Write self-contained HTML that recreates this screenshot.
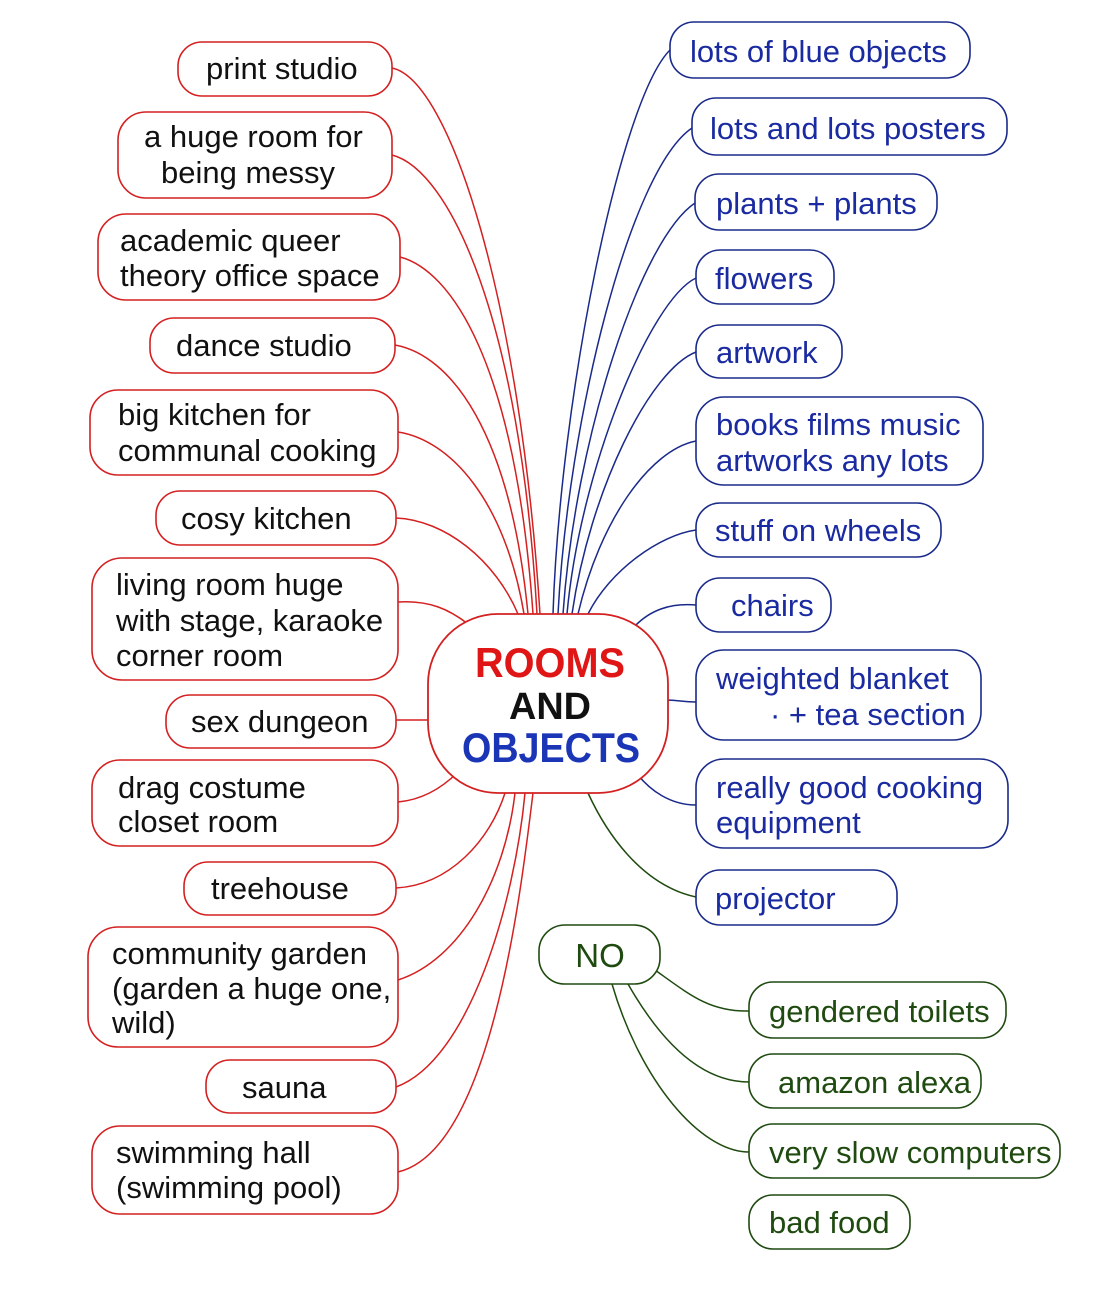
<!DOCTYPE html>
<html><head><meta charset="utf-8"><style>
html,body{margin:0;padding:0;background:#fff}
svg{display:block}
text{font-family:"Liberation Sans",sans-serif;font-size:31px}
.r rect{fill:#fff;stroke:#d42020;stroke-width:1.6}
.b rect{fill:#fff;stroke:#1a2a8a;stroke-width:1.6}
.g rect{fill:#fff;stroke:#1f4a10;stroke-width:1.6}
.r text{fill:#111}
.b text{fill:#1a2aa0}
.g text{fill:#1f4a10}
path{fill:none;stroke-width:1.5}
.lr{stroke:#d42020}.lb{stroke:#1a2a8a}.lg{stroke:#1f4a10}
</style></head><body>
<svg width="1105" height="1304" viewBox="0 0 1105 1304">
<g class="lr">
<path d="M392,68 C450,80 520,300 540,614"/>
<path d="M392,155 C450,170 520,320 537,614"/>
<path d="M400,257 C450,270 515,360 533,614"/>
<path d="M395,345 C450,355 510,430 528,614"/>
<path d="M398,432 C450,440 505,500 524,614"/>
<path d="M396,518 C445,520 495,560 518,614"/>
<path d="M398,602 C430,600 450,610 468,624"/>
<path d="M396,720 L428,720"/>
<path d="M398,802 C420,800 440,790 458,772"/>
<path d="M396,888 C450,885 490,840 505,793"/>
<path d="M398,980 C460,960 505,880 515,793"/>
<path d="M396,1087 C470,1060 515,900 525,793"/>
<path d="M398,1172 C490,1150 520,900 533,793"/>
</g>
<g class="lb">
<path d="M670,50 C620,100 560,400 553,614"/>
<path d="M692,128 C630,170 568,420 558,614"/>
<path d="M695,203 C640,240 575,440 563,614"/>
<path d="M696,278 C650,300 580,470 567,614"/>
<path d="M696,352 C650,370 590,490 572,614"/>
<path d="M696,441 C650,450 600,520 578,614"/>
<path d="M696,530 C660,535 610,570 588,614"/>
<path d="M696,605 C670,603 650,610 634,627"/>
<path d="M696,702 C685,702 675,700 667,700"/>
<path d="M696,805 C670,805 650,790 638,775"/>
</g>
<g class="lg">
<path d="M696,897 C640,885 605,830 588,793"/>
<path d="M655,970 C690,995 710,1012 749,1011"/>
<path d="M628,984 C660,1040 700,1082 749,1082"/>
<path d="M612,984 C640,1080 700,1152 749,1152"/>
</g>
<rect x="428" y="614" width="240" height="179" rx="70" fill="#fff" stroke="#d42020" stroke-width="1.8"/>
<text x="550" y="677" text-anchor="middle" font-weight="bold" style="font-size:42px" fill="#e01515" textLength="150" lengthAdjust="spacingAndGlyphs">ROOMS</text>
<text x="550" y="719" text-anchor="middle" font-weight="bold" style="font-size:38px" fill="#111" textLength="82" lengthAdjust="spacingAndGlyphs">AND</text>
<text x="551" y="762" text-anchor="middle" font-weight="bold" style="font-size:42px" fill="#1a35b5" textLength="178" lengthAdjust="spacingAndGlyphs">OBJECTS</text>
<g class="r">
<rect x="178" y="42" width="214" height="54" rx="24"/><text x="206" y="79">print studio</text>
<rect x="118" y="112" width="274" height="86" rx="28"/><text x="144" y="147">a huge room for</text><text x="161" y="183">being messy</text>
<rect x="98" y="214" width="302" height="86" rx="28"/><text x="120" y="251">academic queer</text><text x="120" y="286">theory office space</text>
<rect x="150" y="318" width="245" height="55" rx="24"/><text x="176" y="356">dance studio</text>
<rect x="90" y="390" width="308" height="85" rx="28"/><text x="118" y="425">big kitchen for</text><text x="118" y="461">communal cooking</text>
<rect x="156" y="491" width="240" height="54" rx="24"/><text x="181" y="529">cosy kitchen</text>
<rect x="92" y="558" width="306" height="122" rx="30"/><text x="116" y="595">living room huge</text><text x="116" y="631">with stage, karaoke</text><text x="116" y="666">corner room</text>
<rect x="166" y="695" width="230" height="53" rx="24"/><text x="191" y="732">sex dungeon</text>
<rect x="92" y="760" width="306" height="86" rx="28"/><text x="118" y="798">drag costume</text><text x="118" y="832">closet room</text>
<rect x="184" y="862" width="212" height="53" rx="24"/><text x="211" y="899">treehouse</text>
<rect x="88" y="927" width="310" height="120" rx="30"/><text x="112" y="964">community garden</text><text x="112" y="999">(garden a huge one,</text><text x="112" y="1033">wild)</text>
<rect x="206" y="1060" width="190" height="53" rx="24"/><text x="242" y="1098">sauna</text>
<rect x="92" y="1126" width="306" height="88" rx="28"/><text x="116" y="1163">swimming hall</text><text x="116" y="1198">(swimming pool)</text>
</g>
<g class="b">
<rect x="670" y="22" width="300" height="56" rx="24"/><text x="690" y="62">lots of blue objects</text>
<rect x="692" y="98" width="315" height="57" rx="24"/><text x="710" y="139">lots and lots posters</text>
<rect x="695" y="174" width="242" height="56" rx="24"/><text x="716" y="214">plants + plants</text>
<rect x="696" y="250" width="138" height="54" rx="24"/><text x="715" y="289">flowers</text>
<rect x="696" y="325" width="146" height="53" rx="24"/><text x="716" y="363">artwork</text>
<rect x="696" y="397" width="287" height="88" rx="28"/><text x="716" y="435">books films music</text><text x="716" y="471">artworks any lots</text>
<rect x="696" y="503" width="245" height="54" rx="24"/><text x="715" y="541">stuff on wheels</text>
<rect x="696" y="578" width="135" height="54" rx="24"/><text x="731" y="616">chairs</text>
<rect x="696" y="650" width="285" height="90" rx="28"/><text x="716" y="689">weighted blanket</text><text x="770" y="725">· + tea section</text>
<rect x="696" y="759" width="312" height="89" rx="28"/><text x="716" y="798">really good cooking</text><text x="716" y="833">equipment</text>
<rect x="696" y="870" width="201" height="55" rx="24"/><text x="715" y="909">projector</text>
</g>
<g class="g">
<rect x="539" y="925" width="121" height="59" rx="26"/><text x="600" y="967" text-anchor="middle" style="font-size:33px">NO</text>
<rect x="749" y="982" width="257" height="56" rx="24"/><text x="769" y="1022">gendered toilets</text>
<rect x="749" y="1054" width="232" height="54" rx="24"/><text x="778" y="1093">amazon alexa</text>
<rect x="749" y="1124" width="311" height="54" rx="24"/><text x="769" y="1163">very slow computers</text>
<rect x="749" y="1195" width="161" height="54" rx="24"/><text x="769" y="1233">bad food</text>
</g>
</svg>
</body></html>
